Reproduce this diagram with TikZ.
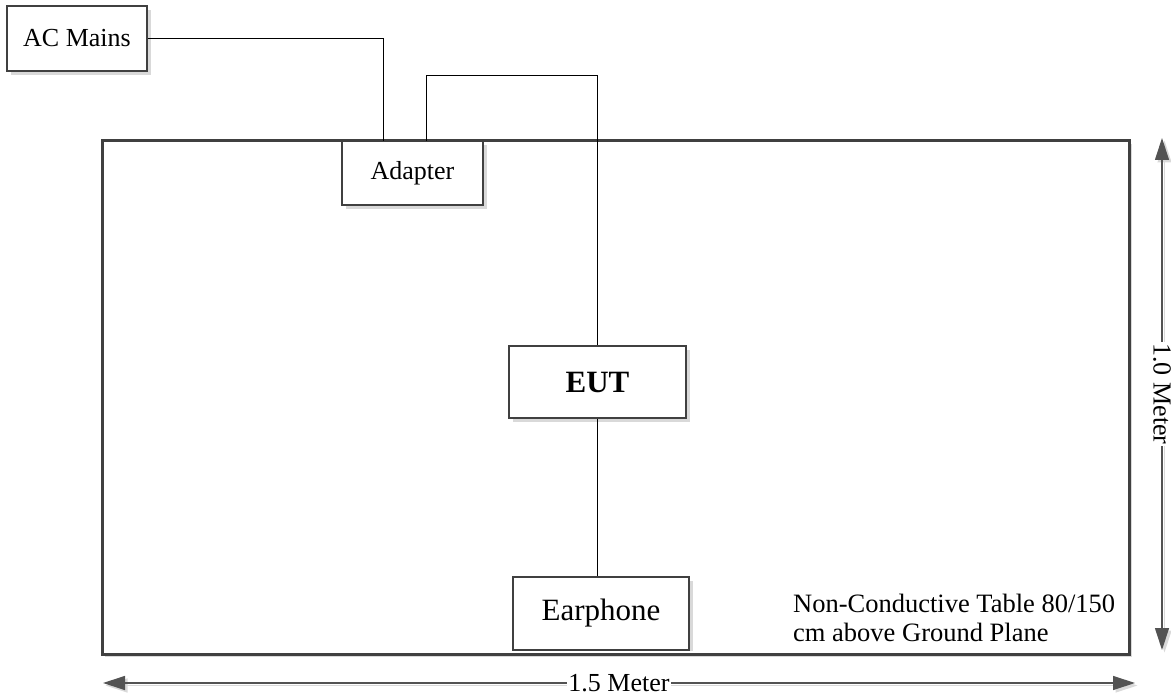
\documentclass[tikz,border=0pt]{standalone}
\usepackage{fontspec}
\setmainfont{Liberation Serif}
\usetikzlibrary{arrows.meta,calc}
\definecolor{dk}{HTML}{404040}
\definecolor{shd}{HTML}{D9D9D9}
\tikzset{
  txt/.style={font=\fontsize{26}{28}\selectfont},
  box/.style={draw=dk, line width=2pt, fill=white, inner sep=0pt, txt},
  wire/.style={draw=black, line width=1pt},
  dim/.style={draw=dk!90, line width=1.2pt, {Triangle[length=22pt,width=14pt]}-{Triangle[length=22pt,width=14pt]}},
  dimshadow/.style={draw=shd, line width=1.2pt, {Triangle[length=22pt,width=14pt]}-{Triangle[length=22pt,width=14pt]}},
  dimlabel/.style={fill=white, inner sep=1pt, txt}
}
\begin{document}
\begin{tikzpicture}[x=1pt,y=-1pt]
\useasboundingbox (0,0) rectangle (1171,700);
% shadows
\fill[shd] (11,10) rectangle (151,75);
\fill[shd] (105,144) rectangle (1132,657);
% table
\node[draw=dk, line width=3pt, fill=white, minimum width=1027pt, minimum height=513pt, inner sep=0pt] (table) at (615.5,397.5) {};
% boxes with shadows
\fill[shd] (346,145) rectangle (487,209);
\fill[shd] (513,350) rectangle (690,422);
\fill[shd] (517,581) rectangle (693,651);
\node[box, minimum width=140pt, minimum height=65pt] (acm) at (77,38.5) {AC Mains};
\node[box, minimum width=141pt, minimum height=64pt] (adapter) at (412.5,173) {Adapter};
\node[box, minimum width=177pt, minimum height=72pt, font=\fontsize{31}{33}\selectfont\bfseries] (eut) at (597.5,382) {EUT};
\node[box, minimum width=176pt, minimum height=73pt, font=\fontsize{31}{33}\selectfont] (earph) at (601,613.5) {Earphone};
% table note
\node[font=\fontsize{26.5}{28.5}\selectfont, anchor=base west, align=left, inner sep=0pt] (note) at (793,641) {Non-Conductive Table 80/150\\cm above Ground Plane};
% wires
\coordinate (a1) at (383,141);
\coordinate (a2) at (426,141);
\coordinate (bend) at (426,76);
\draw[wire] (acm.east) -| (a1);
\draw[wire] (a2) -- (bend) -| (eut.north);
\draw[wire] (eut.south) -- (eut.south |- earph.north);
% dimension arrows
\coordinate (vt) at (1162,138);
\coordinate (vb) at (1162,650);
\coordinate (hl) at (103,683);
\coordinate (hr) at (1135,683);
\draw[dimshadow] ($(vt)+(2.5,2.5)$) -- ($(vb)+(2.5,2.5)$);
\draw[dimshadow] ($(hl)+(2.5,2.5)$) -- ($(hr)+(2.5,2.5)$);
\draw[dim] (vt) -- (vb);
\draw[dim] (hl) -- (hr);
\node[dimlabel, rotate=-90] (vlab) at (1162,394) {1.0 Meter};
\node[dimlabel] (hlab) at (619,683) {1.5 Meter};
\end{tikzpicture}
\end{document}
